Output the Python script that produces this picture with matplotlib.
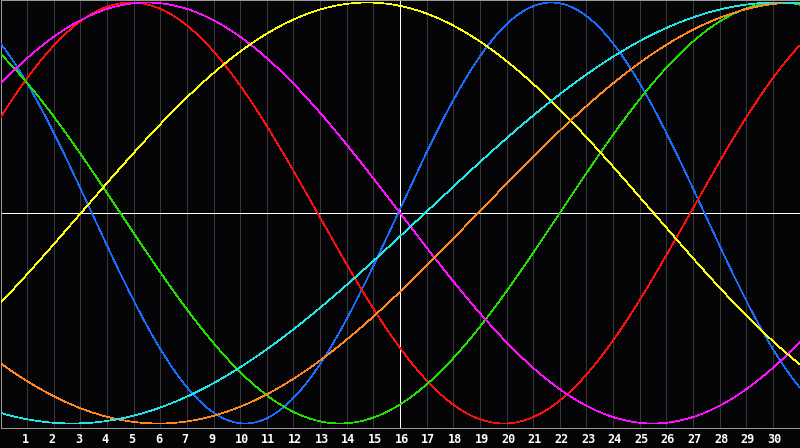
import numpy as np
import matplotlib
matplotlib.use("Agg")
import matplotlib.pyplot as plt
import matplotlib.transforms as mtransforms

# --- chart data ---
# day labels under the 29 inner grid lines (the "8" is skipped on the original)
day_labels = [1, 2, 3, 4, 5, 6, 7, 9, 10, 11, 12, 13, 14, 15, 16, 17, 18, 19,
              20, 21, 22, 23, 24, 25, 26, 27, 28, 29, 30]
# biorhythm cycles: length in days and where each one crosses zero going up
cycle_names = ["physical", "emotional", "intellectual", "intuitive",
               "aesthetic", "awareness", "spiritual"]
cycle_periods = [23, 28, 33, 38, 43, 48, 53]
cycle_zero_up = [14.93, -2.1, 21.0, -4.0, 3.02, 17.93, 15.94]
today_index = 15

COLORS = ["#1a6cff", "#ff1010", "#22e000", "#ff10ff", "#ffff10", "#ff8820", "#20e8e8"]
BG = "#050508"
GRID = "#38383c"
FRAME = "#9a9a9a"
PX = 0.72  # one pixel in points at dpi 100

n_days = len(day_labels) + 1

fig = plt.figure(figsize=(8, 4.48), dpi=100, facecolor=BG)
ax = fig.add_axes([0.5 / 800, 20.5 / 448, 799 / 800, 427 / 448])
ax.set_facecolor(BG)
ax.set_xlim(0, n_days)
ax.set_ylim(-1.019, 1.0095)

# day grid
for k in range(1, n_days):
    ax.axvline(k, color=GRID, lw=PX, antialiased=False, zorder=1)

# today + zero line
ax.axhline(0, color="white", lw=PX, antialiased=False, zorder=2)
ax.axvline(today_index, color="white", lw=PX, antialiased=False, zorder=2)

t = np.linspace(0, n_days, 1600)
for name, period, z, col in zip(cycle_names, cycle_periods, cycle_zero_up, COLORS):
    vals = np.sin(2 * np.pi * (t - z) / period)
    ax.plot(t, vals, color=col, lw=0.5, antialiased=False, zorder=3, label=name)

for s in ax.spines.values():
    s.set_color(FRAME)
    s.set_linewidth(PX)
ax.set_xticks([])
ax.set_yticks([])

# day labels in the bottom band
trans = mtransforms.blended_transform_factory(ax.transData, fig.transFigure)
for k, lab in enumerate(day_labels, start=1):
    ax.text(k - 5.5 / 26.667, 1 - 439 / 448, str(lab), transform=trans,
            ha="left", va="center", color="white", fontsize=8.5,
            family="DejaVu Sans Mono", fontweight="bold", clip_on=False)

fig.savefig("out.png", dpi=100, facecolor=BG)
